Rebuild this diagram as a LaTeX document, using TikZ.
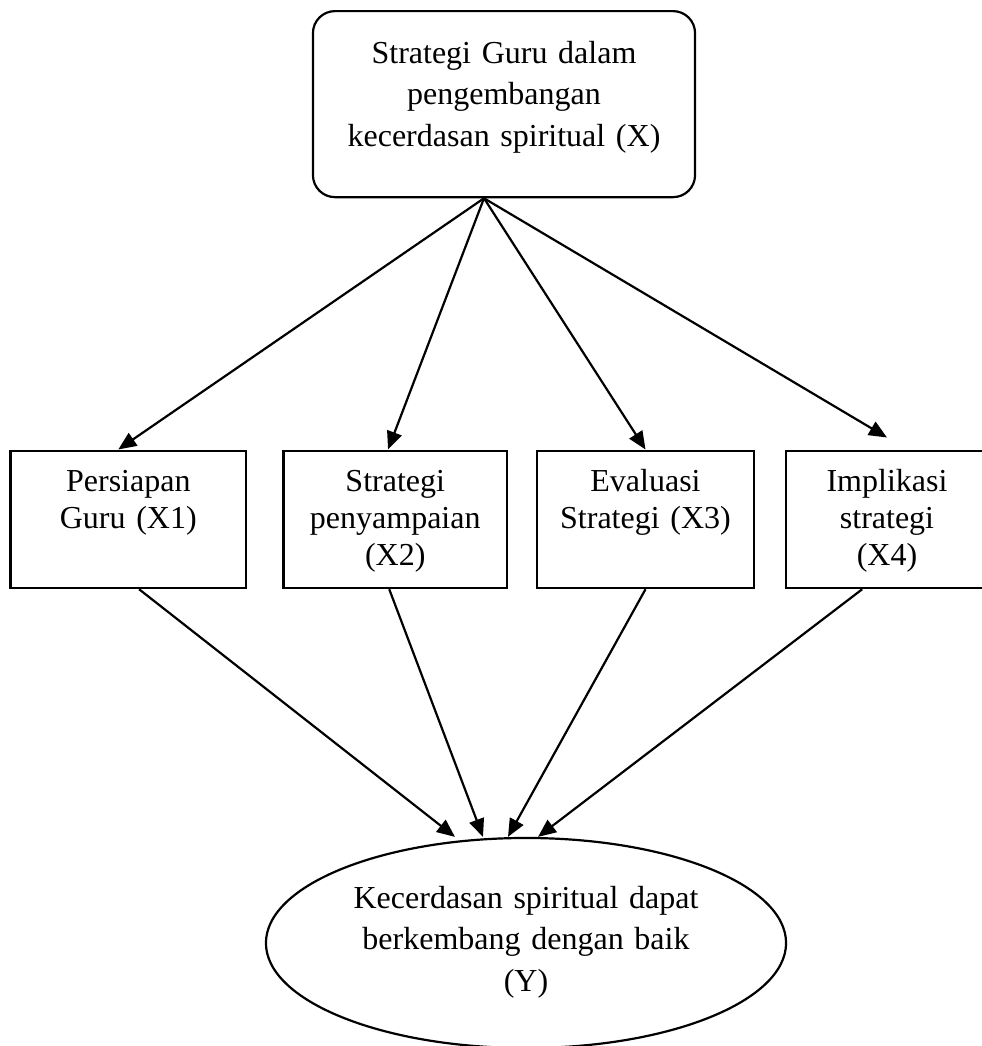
\documentclass[tikz,border=0pt]{standalone}
\usepackage{fontspec}
\setmainfont{Liberation Serif}
\usetikzlibrary{arrows.meta,shapes.geometric}

\tikzset{
    kotak/.style={draw, line width=0.055cm, inner sep=0pt, align=center, anchor=north,
        text height=1.0125cm, text depth=2.425cm, font=\fontsize{22.76}{26.3}\selectfont},
    panah/.style={-{Triangle[length=0.45cm, width=0.38cm]}, line width=0.055cm},
}

\begin{document}
\begin{tikzpicture}[x=0.025cm, y=-0.025cm]
            \useasboundingbox (0, 0) rectangle (981, 1046);

            \node[draw, line width=0.055cm, rounded corners=0.55cm, inner sep=0pt, align=center, anchor=north,
                text width=9.55cm, text height=1.3cm, text depth=3.35cm,
                font=\fontsize{22.76}{29.6}\selectfont] (X) at (504, 10)
                {Strategi Guru dalam\\pengembangan\\kecerdasan spiritual (X)};

            \foreach \nama/\x/\lebar/\isi in {X1/128.3/5.885/{Persiapan\\Guru (X1)},
                    X2/395.25/5.59/{Strategi\\penyampaian\\(X2)},
                    X3/645.5/5.425/{Evaluasi\\Strategi (X3)},
                    X4/887/5.05/{Implikasi\\strategi\\(X4)}}
                \node[kotak, text width=\lebar cm] (\nama) at (\x, 449.5) {\isi};

            \node[draw, ellipse, line width=0.055cm, inner sep=0pt, align=center,
                minimum width=13cm, minimum height=5.25cm, text width=9cm,
                text height=0.625cm, text depth=2.375cm,
                font=\fontsize{22.76}{29.6}\selectfont] (Y) at (526, 943)
                {Kecerdasan spiritual dapat\\berkembang dengan baik\\(Y)};

            \coordinate (puncak) at ([xshift=-0.5cm]X.south);

            \draw[panah] (puncak) -- ([xshift=-0.25cm]X1.north);  %  X -- X1
            \draw[panah] (puncak) -- ([xshift=-0.18cm]X2.north);  %  X -- X2
            \draw[panah] (puncak) -- (X3.north);                  %  X -- X3
            \draw[panah] (puncak) -- ([yshift=0.3cm]X4.north);    %  X -- X4

            \draw[panah] ([xshift=0.27cm]X1.south) -- ([xshift=-1.775cm]Y.north); %  X1 -- Y
            \draw[panah] ([xshift=-0.15cm]X2.south) -- ([xshift=-1.075cm]Y.north); %  X2 -- Y
            \draw[panah] (X3.south) -- ([xshift=-0.45cm]Y.north);                 %  X3 -- Y
            \draw[panah] ([xshift=-0.62cm]X4.south) -- ([xshift=0.3cm]Y.north);   %  X4 -- Y
\end{tikzpicture}
\end{document}
